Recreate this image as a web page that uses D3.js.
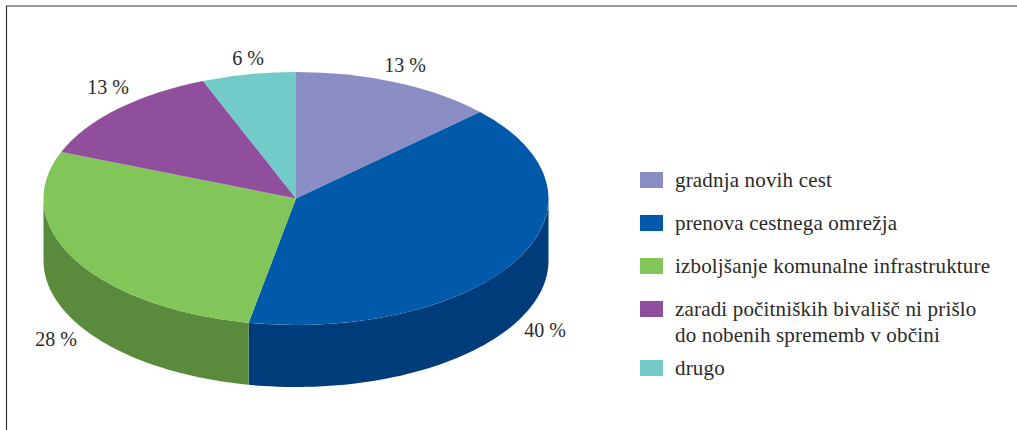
<!DOCTYPE html>
<html>
<head>
<meta charset="utf-8">
<script src="https://cdn.jsdelivr.net/npm/d3@7"></script>
<style>
  html, body { margin: 0; background: #fff; }
  svg { display: block; }
  text { font-family: "Liberation Serif", serif; fill: #2b2a29; }
</style>
</head>
<body>
<svg id="chart" width="1017" height="430"></svg>
<script>
const categories = ["gradnja novih cest", "prenova cestnega omrežja", "izboljšanje komunalne infrastrukture", "zaradi počitniških bivališč ni prišlo|do nobenih sprememb v občini", "drugo"];
const values = [13, 40, 28, 13, 6];
const topColors = ["#8b8ec5", "#005aa9", "#82c659", "#8f4f9c", "#72cbc9"];
const sideColors = ["#5f6290", "#003b7a", "#5a8b3c", "#643570", "#4f8e8c"];
const labelPos = [[405, 72], [545, 337], [56, 346], [108, 94], [248, 65]];

const W = 1017, H = 430;
const cx = 296, cy = 198.5, rx = 252.5, ry = 126.5, depth = 62;
const svg = d3.select("#chart");

// frame, only top and left sides are inside the crop
svg.append("path")
  .attr("d", `M6.5,${H} V6 H${W}`)
  .attr("fill", "none")
  .attr("stroke", "#333")
  .attr("stroke-width", 1.2);

const pie = d3.pie().sort(null).value(d => d)(values);
const flat = ry / rx;

// side wall, only the part of each slice facing the viewer
const sideArea = d3.area()
  .x(a => cx + rx * Math.sin(a))
  .y0(a => cy - ry * Math.cos(a))
  .y1(a => cy - ry * Math.cos(a) + depth);

pie.forEach((p, i) => {
  const a0 = Math.max(p.startAngle, Math.PI / 2);
  const a1 = Math.min(p.endAngle, Math.PI * 1.5);
  if (a1 <= a0) return;
  svg.append("path")
    .attr("d", sideArea(d3.range(0, 61).map(k => a0 + (a1 - a0) * k / 60)))
    .attr("fill", sideColors[i]);
});

const arc = d3.arc().innerRadius(0).outerRadius(rx);
svg.append("g")
  .attr("transform", `translate(${cx},${cy}) scale(1,${flat})`)
  .selectAll("path").data(pie).join("path")
  .attr("d", arc)
  .attr("fill", (d, i) => topColors[i]);

svg.append("g").selectAll("text").data(values).join("text")
  .attr("x", (d, i) => labelPos[i][0])
  .attr("y", (d, i) => labelPos[i][1])
  .attr("text-anchor", "middle")
  .attr("font-size", 20)
  .text(d => d + " %");

// legend
const legendY = [172, 215, 258, 301, 360];
const legend = svg.append("g");
categories.forEach((c, i) => {
  legend.append("rect")
    .attr("x", 640).attr("y", legendY[i])
    .attr("width", 23).attr("height", 16)
    .attr("fill", topColors[i]);
  c.split("|").forEach((line, k) => {
    legend.append("text")
      .attr("x", 675)
      .attr("y", legendY[i] + 15 + k * 26)
      .attr("font-size", 21)
      .attr("letter-spacing", 0.17)
      .text(line);
  });
});
</script>
</body>
</html>
